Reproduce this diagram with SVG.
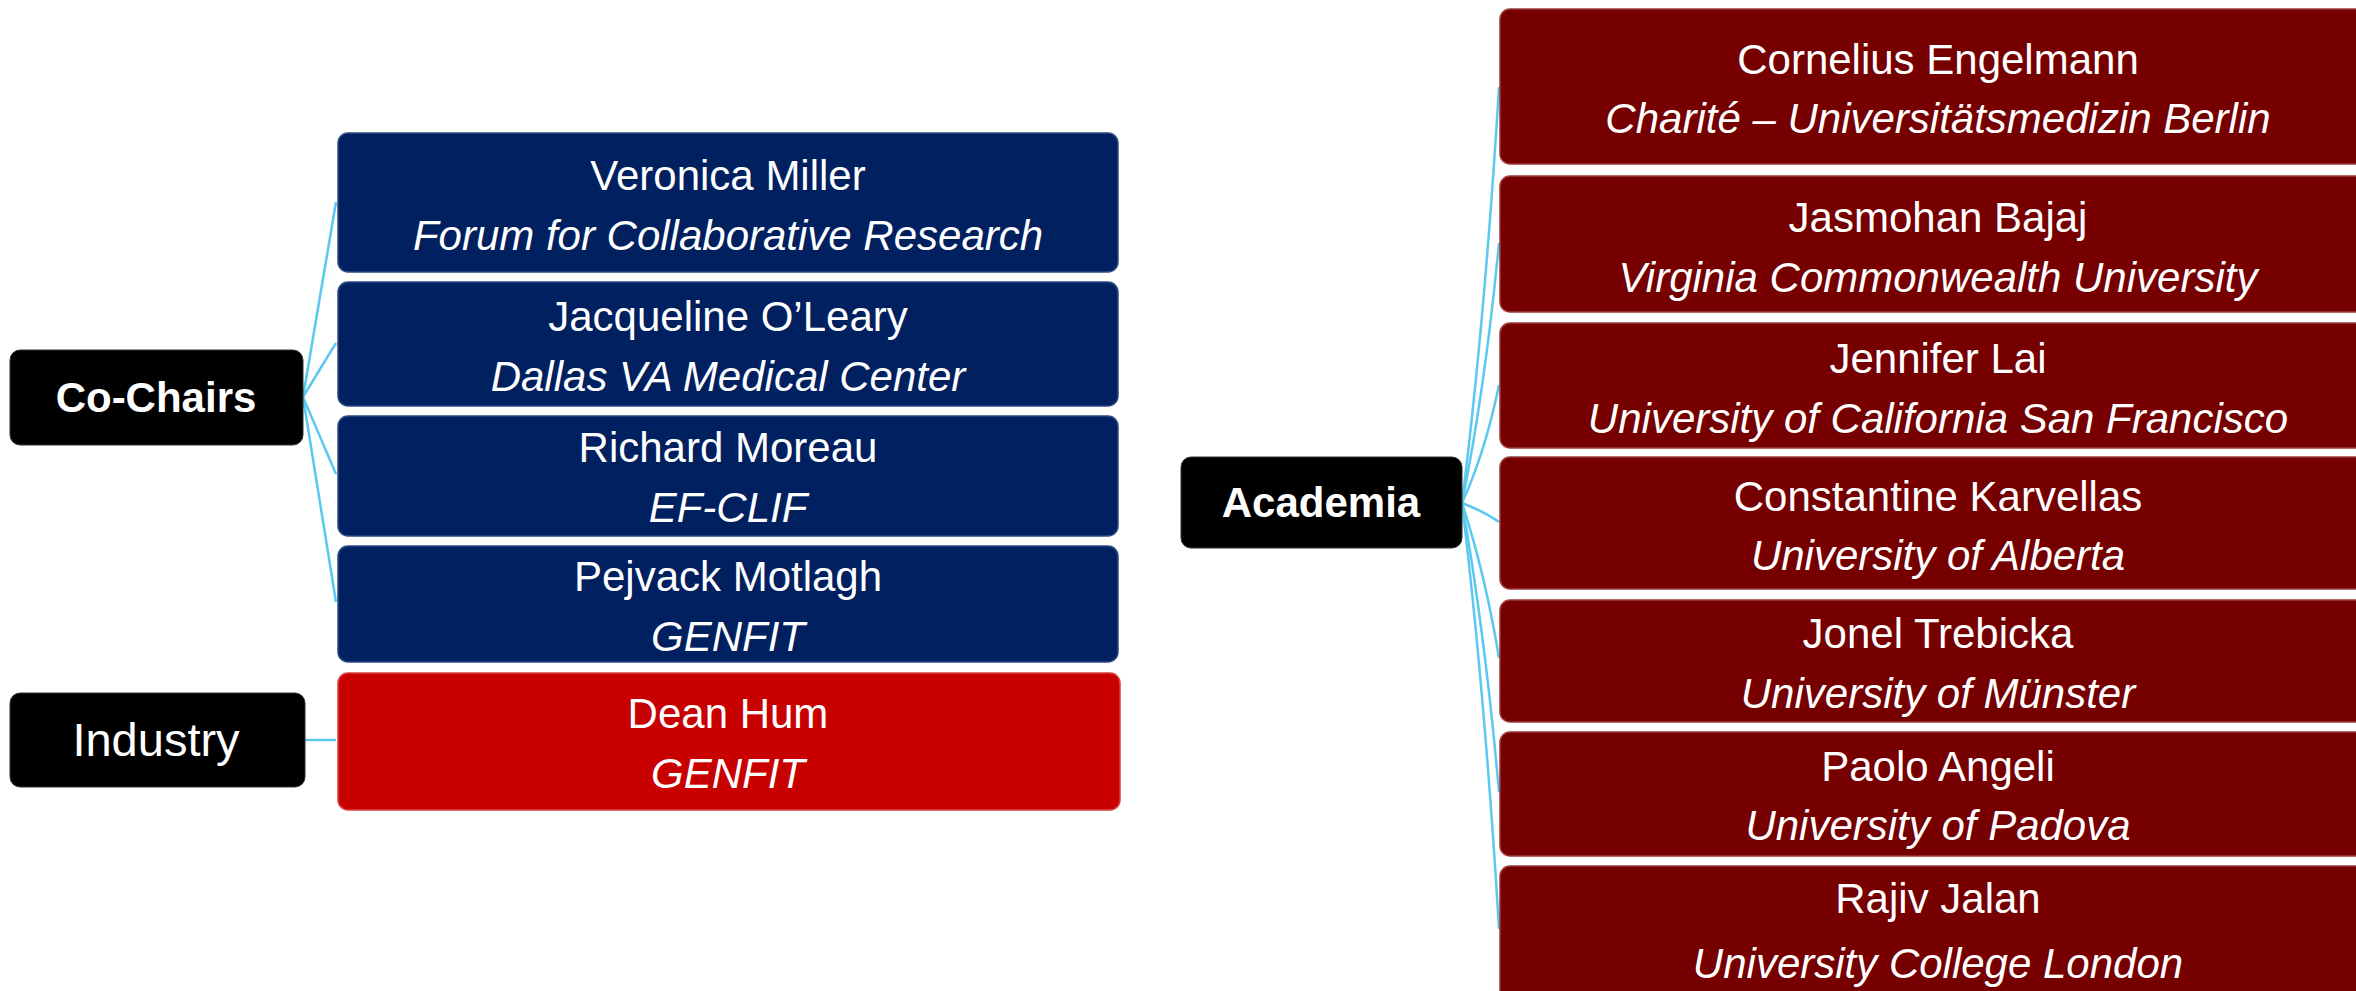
<svg xmlns="http://www.w3.org/2000/svg" width="2356" height="991" viewBox="0 0 2356 991">
<style>
.lbl{fill:#000000;stroke:#333333;stroke-width:1}
.blue{fill:#002060;stroke:#2E4A80;stroke-width:1.5}
.red{fill:#C90000;stroke:#D84040;stroke-width:1.5}
.dred{fill:#760000;stroke:#9A3A3A;stroke-width:1.5}
.t{font-family:"Liberation Sans",Arial,sans-serif;fill:#FFFFFF;text-anchor:middle;font-size:42px}
.i{font-style:italic}
.b{font-weight:bold}
.con{fill:none;stroke:#5BC8F0;stroke-width:2.5}
</style>
<rect width="2356" height="991" fill="#FFFFFF"/>
<g id="connectors">
<line class="con" x1="303" y1="397" x2="336" y2="202"/>
<line class="con" x1="303" y1="397" x2="336" y2="343"/>
<line class="con" x1="303" y1="397" x2="336" y2="474"/>
<line class="con" x1="303" y1="397" x2="336" y2="602"/>
<line class="con" x1="305" y1="740" x2="336" y2="740"/>
<path class="con" d="M1462,503 Q1485,319 1499,87"/>
<path class="con" d="M1462,503 Q1485,389 1499,243"/>
<path class="con" d="M1462,503 Q1485,453 1499,385"/>
<path class="con" d="M1462,503 Q1485,512 1499,522"/>
<path class="con" d="M1462,503 Q1485,573 1499,658"/>
<path class="con" d="M1462,503 Q1485,633 1499,792"/>
<path class="con" d="M1462,503 Q1485,695 1499,929"/>
</g>
<g id="co-chairs">
<rect class="lbl" x="10" y="350" width="293" height="95" rx="10"/>
<text class="t b" x="156" y="412">Co-Chairs</text>
</g>
<g id="industry">
<rect class="lbl" x="10" y="693" width="295" height="94" rx="10"/>
<text class="t" x="156" y="756" style="font-size:47px">Industry</text>
</g>
<g id="academia">
<rect class="lbl" x="1181" y="457" width="281" height="91" rx="10"/>
<text class="t b" x="1321" y="517">Academia</text>
</g>
<g id="veronica-miller">
<rect class="blue" x="338" y="133" width="780" height="139" rx="10"/>
<text class="t" x="728" y="190">Veronica Miller</text>
<text class="t i" x="728" y="250">Forum for Collaborative Research</text>
</g>
<g id="jacqueline-oleary">
<rect class="blue" x="338" y="282" width="780" height="124" rx="10"/>
<text class="t" x="728" y="331">Jacqueline O’Leary</text>
<text class="t i" x="728" y="391">Dallas VA Medical Center</text>
</g>
<g id="richard-moreau">
<rect class="blue" x="338" y="416" width="780" height="120" rx="10"/>
<text class="t" x="728" y="462">Richard Moreau</text>
<text class="t i" x="728" y="522">EF-CLIF</text>
</g>
<g id="pejvack-motlagh">
<rect class="blue" x="338" y="546" width="780" height="116" rx="10"/>
<text class="t" x="728" y="591">Pejvack Motlagh</text>
<text class="t i" x="728" y="651">GENFIT</text>
</g>
<g id="dean-hum">
<rect class="red" x="338" y="673" width="782" height="137" rx="10"/>
<text class="t" x="728" y="728">Dean Hum</text>
<text class="t i" x="728" y="788">GENFIT</text>
</g>
<g id="cornelius-engelmann">
<rect class="dred" x="1500" y="9" width="880" height="155" rx="10"/>
<text class="t" x="1938" y="74">Cornelius Engelmann</text>
<text class="t i" x="1938" y="133">Charité – Universitätsmedizin Berlin</text>
</g>
<g id="jasmohan-bajaj">
<rect class="dred" x="1500" y="176" width="880" height="136" rx="10"/>
<text class="t" x="1938" y="232">Jasmohan Bajaj</text>
<text class="t i" x="1938" y="292">Virginia Commonwealth University</text>
</g>
<g id="jennifer-lai">
<rect class="dred" x="1500" y="323" width="880" height="125" rx="10"/>
<text class="t" x="1938" y="373">Jennifer Lai</text>
<text class="t i" x="1938" y="433">University of California San Francisco</text>
</g>
<g id="constantine-karvellas">
<rect class="dred" x="1500" y="457" width="880" height="132" rx="10"/>
<text class="t" x="1938" y="511">Constantine Karvellas</text>
<text class="t i" x="1938" y="570">University of Alberta</text>
</g>
<g id="jonel-trebicka">
<rect class="dred" x="1500" y="600" width="880" height="122" rx="10"/>
<text class="t" x="1938" y="648">Jonel Trebicka</text>
<text class="t i" x="1938" y="708">University of Münster</text>
</g>
<g id="paolo-angeli">
<rect class="dred" x="1500" y="732" width="880" height="124" rx="10"/>
<text class="t" x="1938" y="781">Paolo Angeli</text>
<text class="t i" x="1938" y="840">University of Padova</text>
</g>
<g id="rajiv-jalan">
<rect class="dred" x="1500" y="866" width="880" height="140" rx="10"/>
<text class="t" x="1938" y="913">Rajiv Jalan</text>
<text class="t i" x="1938" y="978">University College London</text>
</g>
</svg>
